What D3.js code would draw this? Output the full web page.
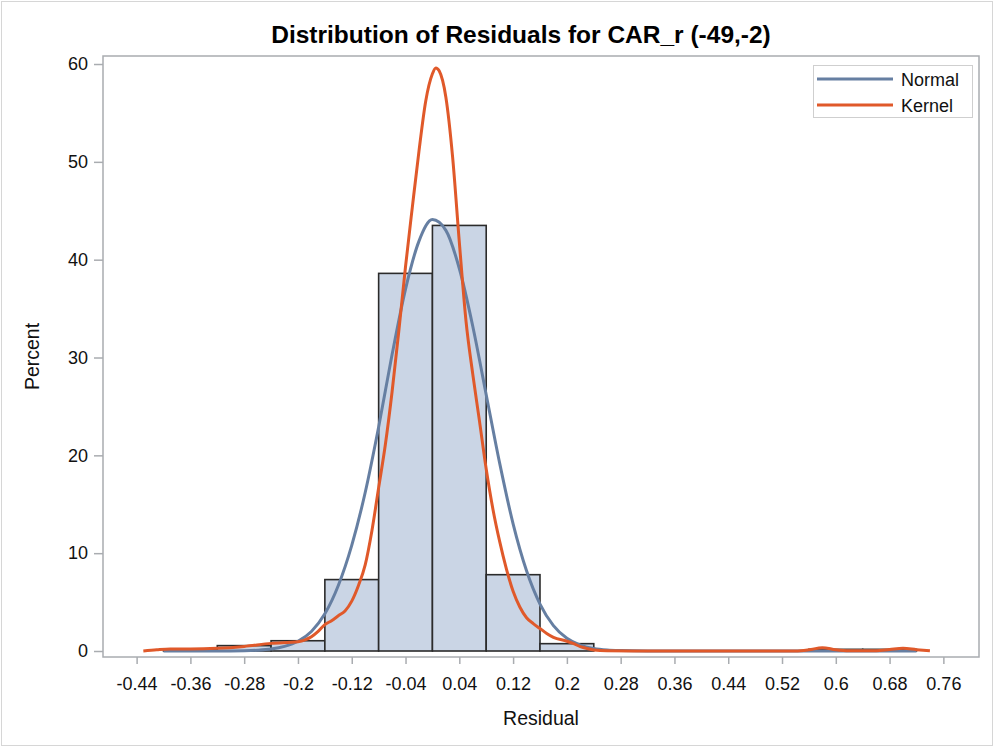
<!DOCTYPE html>
<html>
<head>
<meta charset="utf-8">
<script src="https://cdn.jsdelivr.net/npm/d3@7"></script>
<style>
  body { margin: 0; background: #fff; }
  svg { display: block; font-family: "Liberation Sans", Arial, sans-serif; }
</style>
</head>
<body>
<div id="chart"></div>
<script>
// histogram bins (midpoints) and percent of observations
var binMid = [-0.36, -0.28, -0.2, -0.12, -0.04, 0.04, 0.12, 0.2, 0.6, 0.68];
var binPct = [0.17, 0.55, 1.05, 7.3, 38.6, 43.5, 7.8, 0.75, 0.17, 0.17];
var binWidth = 0.08;

// fitted normal curve
var normalX =   [-0.40, -0.32, -0.28, -0.26, -0.24, -0.22, -0.20, -0.18, -0.16, -0.14, -0.12, -0.10, -0.08, -0.06, -0.04, -0.02, 0.00, 0.02, 0.04, 0.06, 0.08, 0.10, 0.12, 0.14, 0.16, 0.18, 0.20, 0.22, 0.24, 0.26, 0.28, 0.32, 0.72];
var normalPct = [0, 0, 0.03, 0.08, 0.2, 0.47, 1.0, 2.0, 3.8, 6.7, 10.8, 16.2, 22.9, 30.3, 37.0, 41.9, 44.1, 43.0, 39.1, 33.2, 26.2, 19.2, 13.0, 8.2, 4.8, 2.6, 1.3, 0.6, 0.26, 0.1, 0.04, 0, 0];

// kernel density curve
var kernelX =   [-0.43, -0.41, -0.39, -0.36, -0.32, -0.28, -0.24, -0.20, -0.18, -0.17, -0.16, -0.15, -0.14, -0.13, -0.12, -0.11, -0.10, -0.09, -0.08, -0.07, -0.06, -0.05, -0.04, -0.03, -0.02, -0.01, 0.00, 0.005, 0.01, 0.02, 0.03, 0.04, 0.05, 0.06, 0.07, 0.08, 0.09, 0.10, 0.11, 0.12, 0.13, 0.14, 0.15, 0.16, 0.17, 0.18, 0.20, 0.21, 0.22, 0.23, 0.24, 0.26, 0.30, 0.54, 0.56, 0.58, 0.60, 0.62, 0.66, 0.68, 0.70, 0.72, 0.74];
var kernelPct = [0, 0.12, 0.2, 0.2, 0.27, 0.47, 0.78, 0.95, 1.45, 2.0, 2.7, 3.1, 3.6, 4.1, 5.1, 6.7, 8.8, 12.3, 16.7, 21.1, 26.5, 32.7, 39.3, 45.3, 51.1, 56.2, 59.0, 59.6, 59.3, 56.6, 50.5, 41.8, 33.7, 28.3, 23.5, 18.6, 14.5, 11.2, 8.4, 6.1, 4.5, 3.4, 2.8, 2.3, 1.8, 1.4, 1.0, 0.75, 0.45, 0.25, 0.1, 0.02, 0, 0, 0.12, 0.34, 0.12, 0.02, 0.02, 0.15, 0.28, 0.14, 0.02];

var xTicks = [-0.44, -0.36, -0.28, -0.2, -0.12, -0.04, 0.04, 0.12, 0.2, 0.28, 0.36, 0.44, 0.52, 0.6, 0.68, 0.76];
var yTicks = [0, 10, 20, 30, 40, 50, 60];

var W = 996, H = 747;
var frame = {left: 103, right: 979, top: 56, bottom: 657};

var svg = d3.select("#chart").append("svg")
    .attr("width", W)
    .attr("height", H);

// outer border
svg.append("rect")
    .attr("x", 1.5).attr("y", 1.5)
    .attr("width", W - 5).attr("height", H - 3)
    .attr("fill", "none")
    .attr("stroke", "#d6d6d6");

var x = d3.scaleLinear()
    .domain([-0.49, 0.813])
    .range([frame.left, frame.right]);

var y = d3.scaleLinear()
    .domain([-0.613, 60.82])
    .range([frame.bottom, frame.top]);

// title
svg.append("text")
    .attr("x", 521).attr("y", 43)
    .attr("text-anchor", "middle")
    .attr("font-size", "24.5px")
    .attr("font-weight", "bold")
    .attr("fill", "#000")
    .text("Distribution of Residuals for CAR_r (-49,-2)");

// bars
svg.append("g").selectAll("rect")
    .data(binMid)
    .enter().append("rect")
    .attr("x", function(d) { return x(d - binWidth / 2); })
    .attr("width", function(d) { return x(d + binWidth / 2) - x(d - binWidth / 2); })
    .attr("y", function(d, i) { return y(binPct[i]); })
    .attr("height", function(d, i) { return y(0) - y(binPct[i]); })
    .attr("fill", "#cad5e5")
    .attr("stroke", "#2b2b2b")
    .attr("stroke-width", 1.6);

var line = d3.line()
    .x(function(d) { return x(d[0]); })
    .y(function(d) { return y(d[1]); })
    .curve(d3.curveMonotoneX);

// normal curve
svg.append("path")
    .datum(d3.zip(normalX, normalPct))
    .attr("d", line)
    .attr("fill", "none")
    .attr("stroke", "#667fa2")
    .attr("stroke-width", 3);

// kernel curve
svg.append("path")
    .datum(d3.zip(kernelX, kernelPct))
    .attr("d", line)
    .attr("fill", "none")
    .attr("stroke", "#e0592a")
    .attr("stroke-width", 3);

// plot frame
svg.append("rect")
    .attr("x", frame.left).attr("y", frame.top)
    .attr("width", frame.right - frame.left)
    .attr("height", frame.bottom - frame.top)
    .attr("fill", "none")
    .attr("stroke", "#a9acb0")
    .attr("stroke-width", 1.5);

// axes (plain hyphen for negatives, like the original)
var xAxis = d3.axisBottom(x)
    .tickValues(xTicks)
    .tickFormat(function(d) { return String(+d.toFixed(2)); })
    .tickSize(7)
    .tickPadding(13);

var gx = svg.append("g")
    .attr("transform", "translate(0," + frame.bottom + ")")
    .call(xAxis);

var yAxis = d3.axisLeft(y)
    .tickValues(yTicks)
    .tickFormat(function(d) { return String(d); })
    .tickSize(9)
    .tickPadding(6);

var gy = svg.append("g")
    .attr("transform", "translate(" + frame.left + ",0)")
    .call(yAxis);

[gx, gy].forEach(function(g) {
    g.select(".domain").remove();
    g.selectAll(".tick line").attr("stroke", "#a9acb0").attr("stroke-width", 1.5);
    g.selectAll(".tick text")
        .attr("font-size", "18px")
        .attr("font-family", "Liberation Sans, Arial, sans-serif")
        .attr("fill", "#111");
});

// axis labels
svg.append("text")
    .attr("x", (frame.left + frame.right) / 2).attr("y", 725)
    .attr("text-anchor", "middle")
    .attr("font-size", "19.5px")
    .attr("fill", "#111")
    .text("Residual");

svg.append("text")
    .attr("transform", "translate(39," + (frame.top + frame.bottom) / 2 + ") rotate(-90)")
    .attr("text-anchor", "middle")
    .attr("font-size", "19.5px")
    .attr("fill", "#111")
    .text("Percent");

// legend
var legendItems = [
    {name: "Normal", color: "#667fa2"},
    {name: "Kernel", color: "#e0592a"}
];

var legend = svg.append("g");
legend.append("rect")
    .attr("x", 813.5).attr("y", 65.5)
    .attr("width", 159).attr("height", 52)
    .attr("fill", "#fff")
    .attr("stroke", "#cfcfcf");

var li = legend.selectAll(".item")
    .data(legendItems)
    .enter().append("g")
    .attr("class", "item")
    .attr("transform", function(d, i) { return "translate(0," + (79 + i * 26) + ")"; });

li.append("line")
    .attr("x1", 817).attr("x2", 893)
    .attr("stroke", function(d) { return d.color; })
    .attr("stroke-width", 3);

li.append("text")
    .attr("x", 901).attr("y", 6.5)
    .attr("font-size", "18px")
    .attr("fill", "#111")
    .text(function(d) { return d.name; });
</script>
</body>
</html>
